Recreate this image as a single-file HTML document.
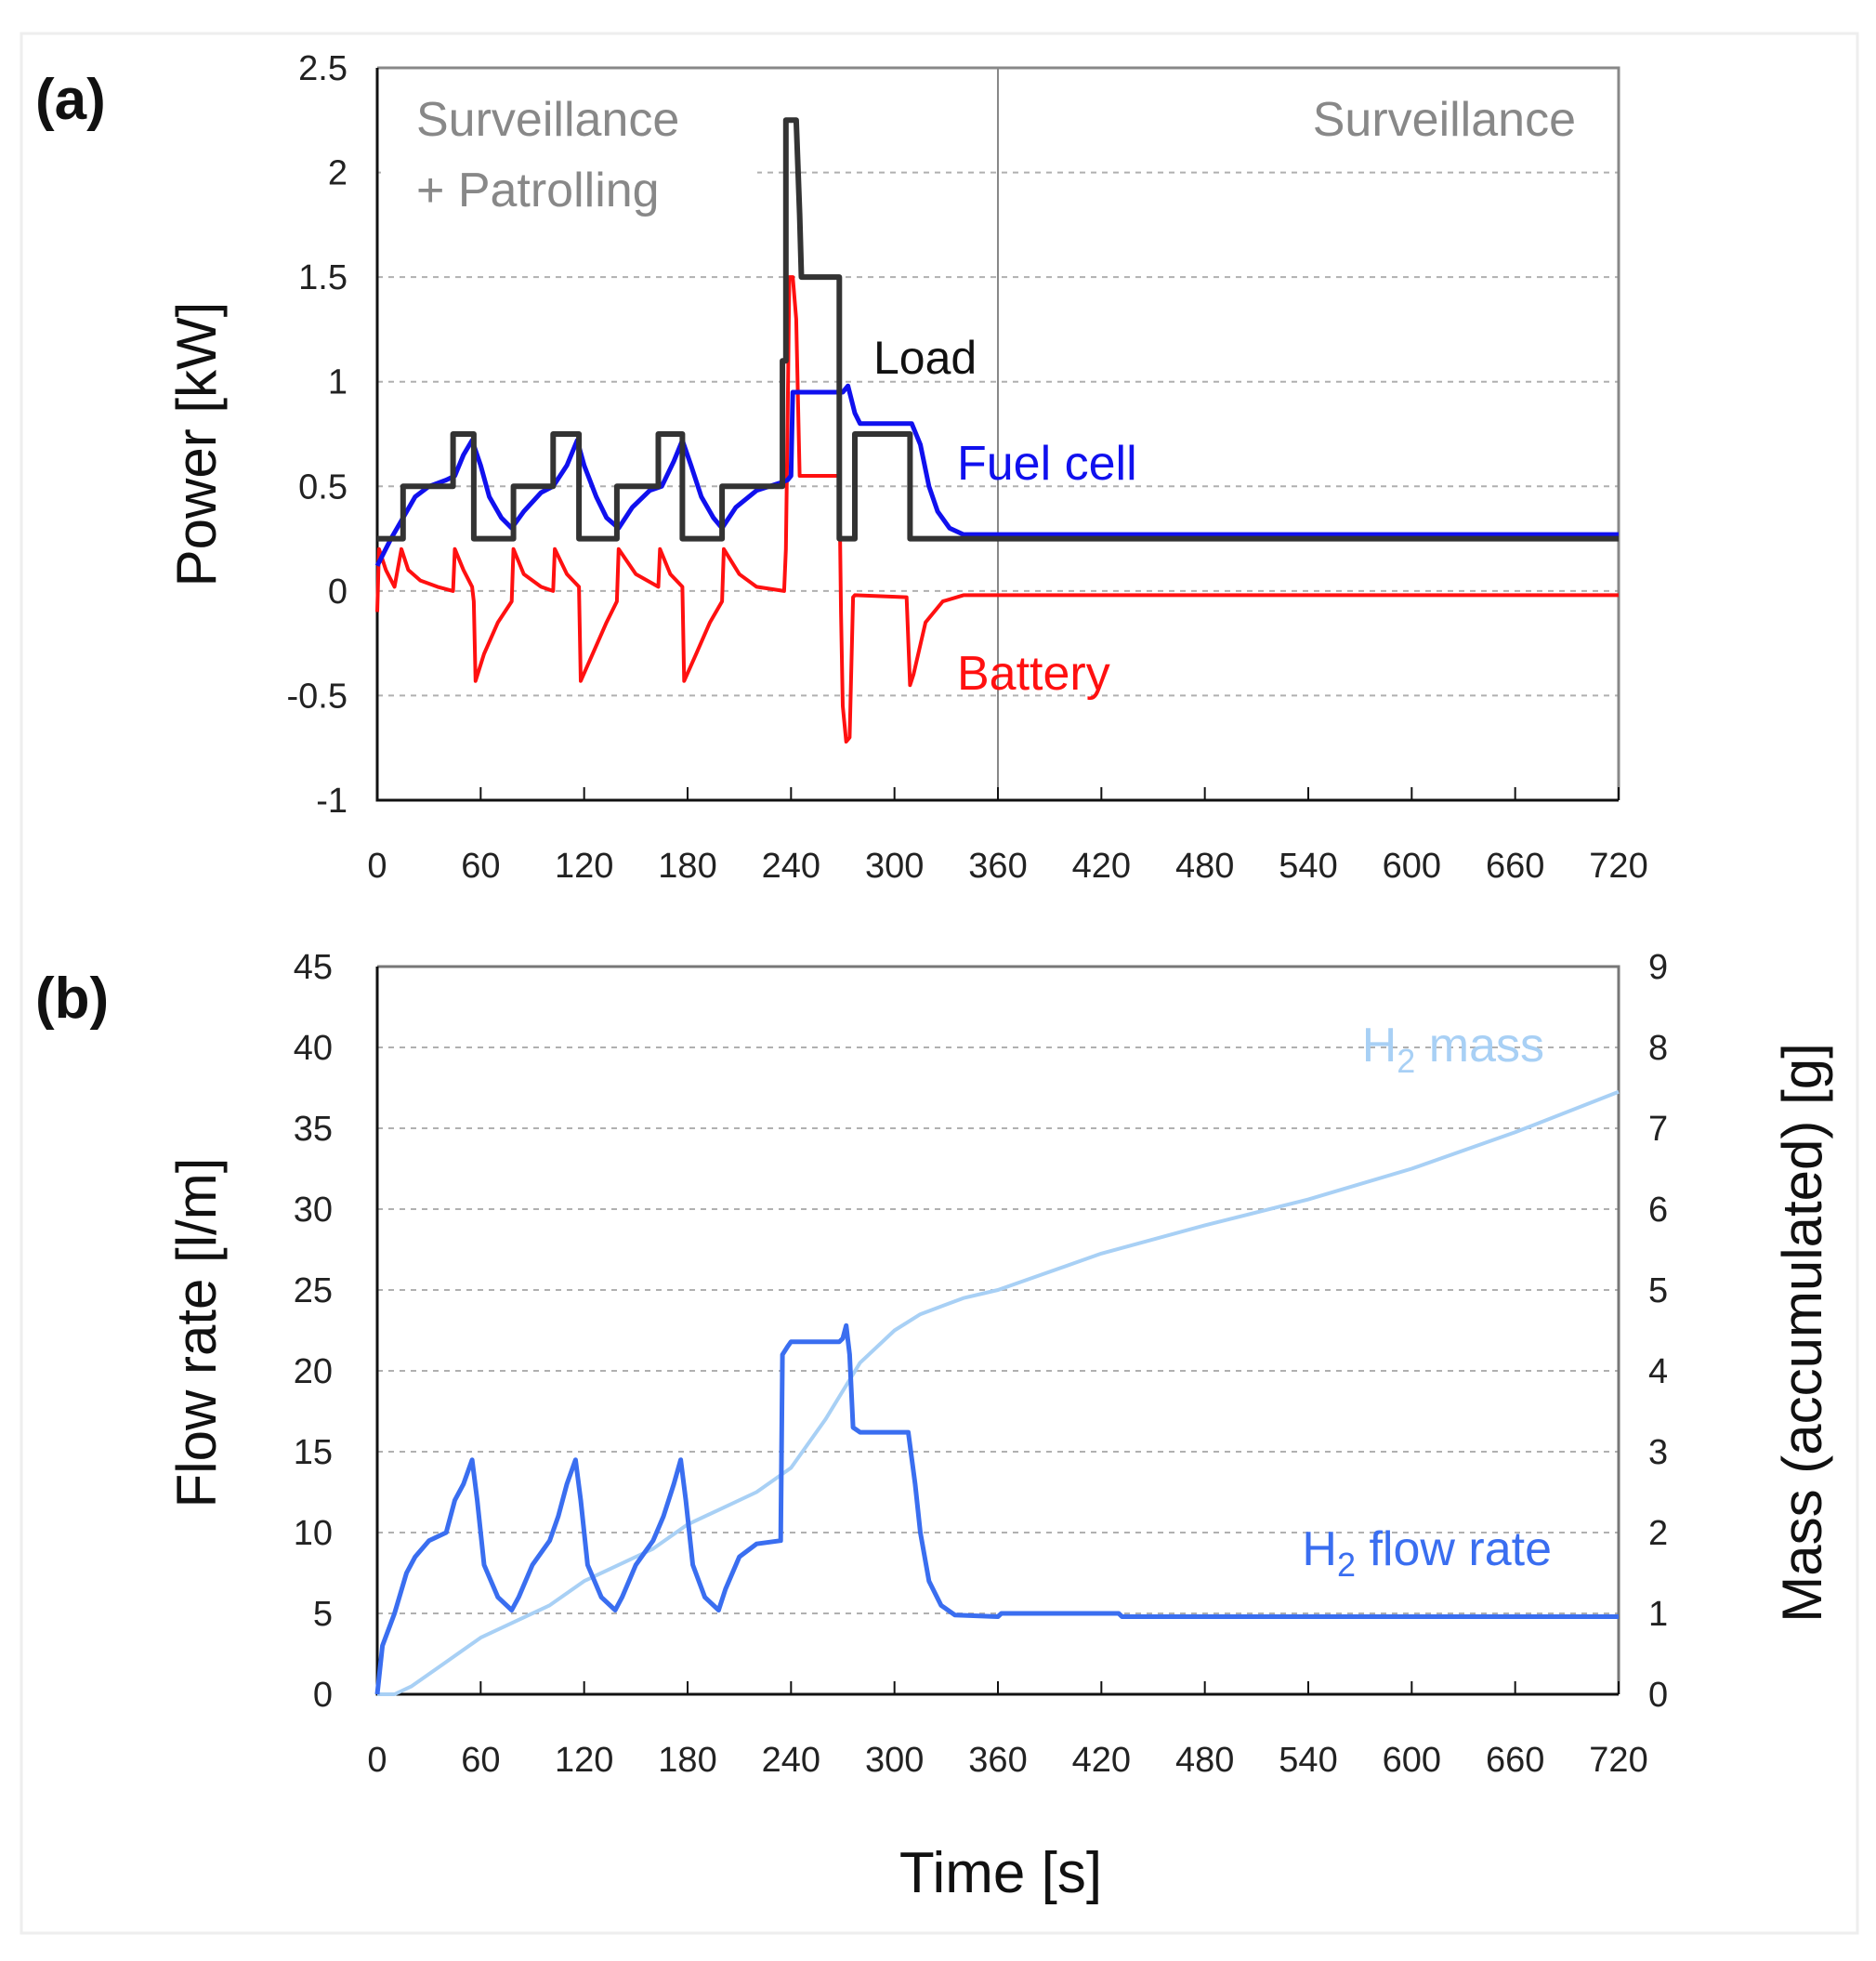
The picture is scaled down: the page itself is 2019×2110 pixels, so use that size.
<!DOCTYPE html>
<html><head><meta charset="utf-8"><style>
html,body{margin:0;padding:0;background:#fff}
svg{display:block}
text{font-family:"Liberation Sans",sans-serif}
</style></head><body>
<svg id="svg" width="2019" height="2110" viewBox="0 0 2019 2110" xmlns="http://www.w3.org/2000/svg">
<rect x="23" y="36" width="1976" height="2044" fill="#fff" stroke="#eeeeee" stroke-width="3"/>
<g id="ga"></g>
<g id="gb"></g>
</svg>
<script>
const timeTicks=[0,60,120,180,240,300,360,420,480,540,600,660,720];
const powerTicks=[-1,-0.5,0,0.5,1,1.5,2,2.5];
const flowTicks=[0,5,10,15,20,25,30,35,40,45];
const massTicks=[0,1,2,3,4,5,6,7,8,9];
const loadT=[0,15,15,44,44,56,56,79,79,102,102,117,117,139,139,163,163,177,177,200,200,235,235,237,237,243,245,246,246,268,268,277,277,309,309,720];
const loadP=[0.25,0.25,0.5,0.5,0.75,0.75,0.25,0.25,0.5,0.5,0.75,0.75,0.25,0.25,0.5,0.5,0.75,0.75,0.25,0.25,0.5,0.5,1.1,1.1,2.25,2.25,1.8,1.5,1.5,1.5,0.25,0.25,0.75,0.75,0.25,0.25];
const fcT=[0,8,15,22,30,40,45,50,55,60,65,72,78,85,95,102,110,116,120,127,133,140,148,158,165,172,177,182,188,195,200,208,220,235,238,240,241,270,273,277,280,310,315,320,325,332,340,720];
const fcP=[0.12,0.25,0.35,0.45,0.5,0.53,0.55,0.65,0.72,0.6,0.45,0.35,0.3,0.38,0.47,0.5,0.6,0.72,0.6,0.45,0.35,0.3,0.4,0.48,0.5,0.62,0.72,0.6,0.45,0.35,0.3,0.4,0.48,0.52,0.53,0.55,0.95,0.95,0.98,0.85,0.8,0.8,0.7,0.5,0.38,0.3,0.27,0.27];
const batT=[0,1,5,10,14,18,25,35,44,45,50,55,56,57,62,70,78,79,85,95,102,103,110,117,118,125,133,139,140,150,163,164,170,177,178,185,193,200,201,210,220,236,237,238,239,241,243,245,268,269,270,272,274,276,277,307,309,311,318,328,340,720];
const batP=[-0.1,0.2,0.1,0.02,0.2,0.1,0.05,0.02,0,0.2,0.1,0.02,-0.05,-0.43,-0.3,-0.15,-0.05,0.2,0.08,0.02,0,0.2,0.08,0.02,-0.43,-0.3,-0.15,-0.05,0.2,0.08,0.02,0.2,0.08,0.02,-0.43,-0.3,-0.15,-0.05,0.2,0.08,0.02,0,0.2,0.8,1.5,1.5,1.3,0.55,0.55,-0.1,-0.55,-0.72,-0.7,-0.03,-0.02,-0.03,-0.45,-0.4,-0.15,-0.05,-0.02,-0.02];
const flowT=[0,3,10,17,22,30,40,45,50,55,58,62,70,78,82,90,100,105,110,115,118,122,130,138,142,150,160,166,172,176,179,183,190,198,202,210,220,234,235,238,240,268,270,272,274,276,280,308,312,315,320,327,335,360,362,430,432,720];
const flowV=[0,3,5,7.5,8.5,9.5,10,12,13,14.5,12,8,6,5.2,6,8,9.5,11,13,14.5,12,8,6,5.2,6,8,9.5,11,13,14.5,12,8,6,5.2,6.5,8.5,9.3,9.5,21,21.5,21.8,21.8,22,22.8,21,16.5,16.2,16.2,13,10,7,5.5,4.9,4.8,5,5,4.8,4.8];
const massT=[0,10,20,40,60,80,100,120,140,160,180,200,220,240,260,280,300,315,340,360,420,480,540,600,660,720];
const massV=[0,0,0.1,0.4,0.7,0.9,1.1,1.4,1.6,1.8,2.1,2.3,2.5,2.8,3.4,4.1,4.5,4.7,4.9,5.0,5.45,5.8,6.12,6.5,6.95,7.45];

const NS="http://www.w3.org/2000/svg";
const X0=406,X1=1742;
const xs=t=>X0+t/720*(X1-X0);
function mk(p,tag,at,txt){const e=document.createElementNS(NS,tag);for(const k in at)e.setAttribute(k,at[k]);if(txt!==undefined)e.textContent=txt;p.appendChild(e);return e;}
function pathOf(T,V,ys){return T.map((t,i)=>(i?'L':'M')+xs(t).toFixed(1)+' '+ys(V[i]).toFixed(1)).join(' ');}

// ---- chart a
const ga=document.getElementById('ga');
const aTop=73,aBot=861;
const ya=v=>aBot-(v+1)/3.5*(aBot-aTop);
powerTicks.forEach(v=>{
  if(v>-1&&v<2.5){const g=mk(ga,'line',{x1:X0,x2:X1,y1:ya(v),y2:ya(v),stroke:'#b0b0b0','stroke-width':2,'stroke-dasharray':'6 6'});
  
  }
  const t=mk(ga,'text',{x:374,y:ya(v)+13,'text-anchor':'end','font-size':38,fill:'#222'},String(v));
  
  
});
let wr=mk(ga,'rect',{x:410,y:100,width:405,height:145,fill:'#fff'});


let vl=mk(ga,'line',{x1:xs(360),x2:xs(360),y1:aTop,y2:aBot,stroke:'#888','stroke-width':2});


let fr=mk(ga,'path',{d:`M${X0} ${aTop}H${X1}V${aBot}`,fill:'none',stroke:'#888','stroke-width':3});


let ax=mk(ga,'path',{d:`M${X0} ${aTop}V${aBot}H${X1}`,fill:'none',stroke:'#111','stroke-width':3});


timeTicks.forEach(t=>{
  const l=mk(ga,'line',{x1:xs(t),x2:xs(t),y1:aBot,y2:aBot-14,stroke:'#111','stroke-width':2});
  
  
  const e=mk(ga,'text',{x:xs(t),y:944,'text-anchor':'middle','font-size':38,fill:'#222'},String(t));
  
  
});
let s1=mk(ga,'path',{d:pathOf(batT,batP,ya),fill:'none',stroke:'#ff1010','stroke-width':4,'stroke-linejoin':'round'});


let s2=mk(ga,'path',{d:pathOf(fcT,fcP,ya),fill:'none',stroke:'#1010ee','stroke-width':5,'stroke-linejoin':'round'});


let s3=mk(ga,'path',{d:pathOf(loadT,loadP,ya),fill:'none',stroke:'#333','stroke-width':6,'stroke-linejoin':'round'});


[['(a)',38,128,'panel-label-a',62,'#111','bold','start'],['Surveillance',448,146,'phase-label-left',52,'#888','normal','start'],['+ Patrolling',448,222,'phase-label-left-2',52,'#888','normal','start'],['Surveillance',1696,146,'phase-label-right',52,'#888','normal','end'],['Load',940,402,'load-label',50,'#111','normal','start'],['Fuel cell',1030,516,'fuel-cell-label',52,'#1010ee','normal','start'],['Battery',1030,742,'battery-label',52,'#ff1010','normal','start']].forEach(a=>{
  const e=mk(ga,'text',{x:a[1],y:a[2],'font-size':a[4],fill:a[5],'font-weight':a[6],'text-anchor':a[7]},a[0]);
  
  
});
let yt=mk(ga,'text',{x:0,y:0,transform:'translate(232,478) rotate(-90)','text-anchor':'middle','font-size':60,fill:'#111'},'Power [kW]');



// ---- chart b
const gb=document.getElementById('gb');
const bTop=1040,bBot=1823;
const yb=v=>bBot-v/45*(bBot-bTop);
const ym=v=>bBot-v/9*(bBot-bTop);
flowTicks.forEach(v=>{
  if(v>0&&v<45){const g=mk(gb,'line',{x1:X0,x2:X1,y1:yb(v),y2:yb(v),stroke:'#b0b0b0','stroke-width':2,'stroke-dasharray':'6 6'});
  
  }
  const t=mk(gb,'text',{x:358,y:yb(v)+13,'text-anchor':'end','font-size':38,fill:'#222'},String(v));
  
  
});
massTicks.forEach(v=>{
  const t=mk(gb,'text',{x:1774,y:ym(v)+13,'text-anchor':'start','font-size':38,fill:'#222'},String(v));
  
  
});
let fb=mk(gb,'path',{d:`M${X0} ${bTop}H${X1}V${bBot}`,fill:'none',stroke:'#777','stroke-width':3});


let axb=mk(gb,'path',{d:`M${X0} ${bTop}V${bBot}H${X1}`,fill:'none',stroke:'#111','stroke-width':3});


timeTicks.forEach(t=>{
  const l=mk(gb,'line',{x1:xs(t),x2:xs(t),y1:bBot,y2:bBot-14,stroke:'#111','stroke-width':2});
  
  
  const e=mk(gb,'text',{x:xs(t),y:1906,'text-anchor':'middle','font-size':38,fill:'#222'},String(t));
  
  
});
let m1=mk(gb,'path',{d:pathOf(massT,massV,ym),fill:'none',stroke:'#a8d0f5','stroke-width':4,'stroke-linejoin':'round'});


let f1=mk(gb,'path',{d:pathOf(flowT,flowV,yb),fill:'none',stroke:'#3a6ef0','stroke-width':5,'stroke-linejoin':'round'});


let lb=mk(gb,'text',{x:38,y:1095,'font-size':62,'font-weight':'bold',fill:'#111'},'(b)');


let hm=mk(gb,'text',{x:1662,y:1142,'text-anchor':'end','font-size':52,fill:'#a8d0f5'});
hm.innerHTML='H<tspan font-size="36" dy="12">2</tspan><tspan dy="-12"> mass</tspan>';


let hf=mk(gb,'text',{x:1670,y:1684,'text-anchor':'end','font-size':52,fill:'#3a6ef0'});
hf.innerHTML='H<tspan font-size="36" dy="12">2</tspan><tspan dy="-12"> flow rate</tspan>';


let ytb=mk(gb,'text',{x:0,y:0,transform:'translate(232,1434) rotate(-90)','text-anchor':'middle','font-size':60,fill:'#111'},'Flow rate [l/m]');


let ytr=mk(gb,'text',{x:0,y:0,transform:'translate(1960,1434) rotate(-90)','text-anchor':'middle','font-size':60,fill:'#111'},'Mass (accumulated) [g]');


let xt=mk(gb,'text',{x:1077,y:2036,'text-anchor':'middle','font-size':62,fill:'#111'},'Time [s]');


</script>
</body></html>
